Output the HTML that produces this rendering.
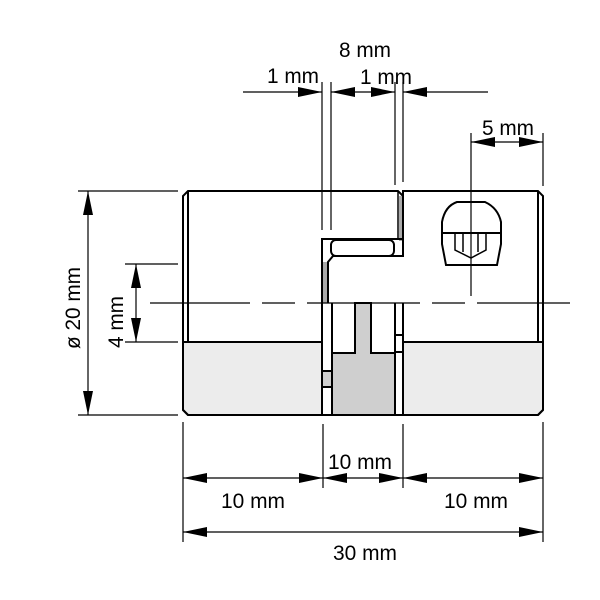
<!DOCTYPE html>
<html><head><meta charset="utf-8"><style>html,body{margin:0;padding:0;background:#fff}svg{display:block}text{font-family:"Liberation Sans",sans-serif;font-size:21px;fill:#000}</style></head><body>
<svg width="600" height="600" viewBox="0 0 600 600" xmlns="http://www.w3.org/2000/svg">
<defs>
<marker id="a" viewBox="0 0 24 10" refX="24" refY="5" markerWidth="24" markerHeight="10" markerUnits="userSpaceOnUse" orient="auto-start-reverse"><path d="M0,0 L24,5 L0,10 Z" fill="#000"/></marker>
</defs>
<g stroke="#000" stroke-width="2" fill="none">
<path d="M183,342 L322,342 L322,415 L188,415 L183,410 Z" fill="#ececec"/>
<path d="M403,342 L543,342 L543,410 L538,415 L403,415 Z" fill="#ececec"/>
<path d="M332,415 L332,353 L355,353 L355,303 L371,303 L371,353 L395,353 L395,415 Z" fill="#cfcfcf"/>
<rect x="322" y="371" width="10" height="16" fill="#cfcfcf"/>
<path d="M188,191 L398,191 L403,196 L403,191 L538,191 L543,196 L543,410 L538,415 L188,415 L183,410 L183,196 Z"/>
<line x1="188" y1="191" x2="188" y2="342"/>
<line x1="538" y1="191" x2="538" y2="342"/>
<line x1="183" y1="342" x2="322" y2="342"/>
<line x1="403" y1="342" x2="543" y2="342"/>
<rect x="399" y="196" width="3" height="45" fill="#aaa" stroke="none"/>
<rect x="323" y="262" width="4" height="41" fill="#aaa" stroke="none"/>
<path d="M403,191 L403,256 L333,256 L328,262 L328,303"/>
<line x1="398" y1="191" x2="398" y2="239" stroke-width="1.5"/>
<path d="M322,303 L322,239 L403,239"/>
<rect x="331" y="240" width="63" height="16" rx="5" fill="#fff"/>
<line x1="322" y1="303" x2="322" y2="415"/>
<line x1="332" y1="303" x2="332" y2="415"/>
<line x1="395" y1="303" x2="395" y2="415"/>
<line x1="403" y1="303" x2="403" y2="415"/>
<line x1="395" y1="335" x2="403" y2="335"/>
<line x1="395" y1="352" x2="403" y2="352"/>
<path d="M442,233 L442,222 Q445,206 457,202 L485,202 Q498,208 501,222 L501,244 L497,265 L446,265 L442,244 Z"/>
<line x1="442" y1="233" x2="501" y2="233"/>
<path d="M455,233 L455,250 L471,258 L486,250 L486,233" stroke-width="1.5"/>
<line x1="463" y1="233" x2="463" y2="252" stroke-width="1.5"/>
<line x1="478" y1="233" x2="478" y2="252" stroke-width="1.5"/>
</g>
<g stroke="#000" stroke-width="1.2" fill="none">
<path d="M150,303 L250,303 M262,303 L295,303 M307,303 L420,303 M432,303 L465,303 M477,303 L570,303"/>
<line x1="471" y1="133" x2="471" y2="296"/>
<line x1="243" y1="92" x2="322" y2="92" marker-end="url(#a)"/>
<line x1="331" y1="92" x2="395" y2="92" marker-start="url(#a)" marker-end="url(#a)"/>
<line x1="403" y1="92" x2="488" y2="92" marker-start="url(#a)"/>
<line x1="322" y1="82" x2="322" y2="230"/>
<line x1="331" y1="82" x2="331" y2="230"/>
<line x1="395" y1="82" x2="395" y2="185"/>
<line x1="403" y1="82" x2="403" y2="182"/>
<line x1="471" y1="142" x2="543" y2="142" marker-start="url(#a)" marker-end="url(#a)"/>
<line x1="543" y1="133" x2="543" y2="186"/>
<line x1="78" y1="191" x2="178" y2="191"/>
<line x1="78" y1="415" x2="178" y2="415"/>
<line x1="88" y1="191" x2="88" y2="415" marker-start="url(#a)" marker-end="url(#a)"/>
<line x1="125" y1="264" x2="178" y2="264"/>
<line x1="125" y1="342" x2="178" y2="342"/>
<line x1="136" y1="264" x2="136" y2="342" marker-start="url(#a)" marker-end="url(#a)"/>
<line x1="183" y1="422" x2="183" y2="542"/>
<line x1="543" y1="422" x2="543" y2="542"/>
<line x1="323" y1="424" x2="323" y2="488"/>
<line x1="403" y1="424" x2="403" y2="488"/>
<line x1="183" y1="478" x2="323" y2="478" marker-start="url(#a)" marker-end="url(#a)"/>
<line x1="323" y1="478" x2="403" y2="478" marker-start="url(#a)" marker-end="url(#a)"/>
<line x1="403" y1="478" x2="543" y2="478" marker-start="url(#a)" marker-end="url(#a)"/>
<line x1="183" y1="532" x2="543" y2="532" marker-start="url(#a)" marker-end="url(#a)"/>
</g>
<g>
<text x="365" y="57" text-anchor="middle" textLength="52" lengthAdjust="spacingAndGlyphs">8 mm</text>
<text x="293" y="83" text-anchor="middle" textLength="52" lengthAdjust="spacingAndGlyphs">1 mm</text>
<text x="386" y="84" text-anchor="middle" textLength="52" lengthAdjust="spacingAndGlyphs">1 mm</text>
<text x="508" y="135" text-anchor="middle" textLength="52" lengthAdjust="spacingAndGlyphs">5 mm</text>
<text x="360" y="469" text-anchor="middle" textLength="64" lengthAdjust="spacingAndGlyphs">10 mm</text>
<text x="253" y="508" text-anchor="middle" textLength="64" lengthAdjust="spacingAndGlyphs">10 mm</text>
<text x="476" y="508" text-anchor="middle" textLength="64" lengthAdjust="spacingAndGlyphs">10 mm</text>
<text x="365" y="560" text-anchor="middle" textLength="64" lengthAdjust="spacingAndGlyphs">30 mm</text>
<text transform="translate(80,308) rotate(-90)" text-anchor="middle" textLength="82" lengthAdjust="spacingAndGlyphs">ø 20 mm</text>
<text transform="translate(123,322) rotate(-90)" text-anchor="middle" textLength="52" lengthAdjust="spacingAndGlyphs">4 mm</text>
</g>
</svg>
</body></html>
